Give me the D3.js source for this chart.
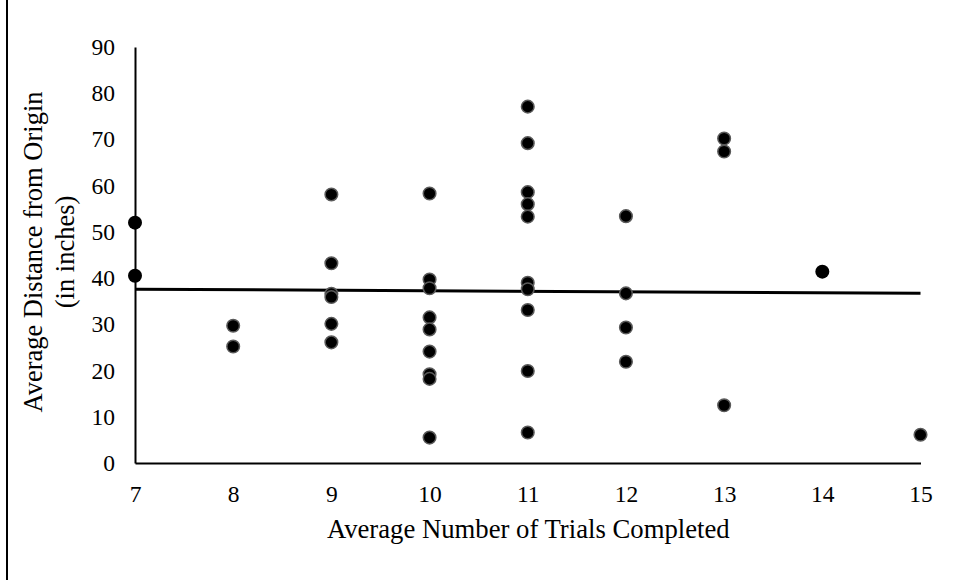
<!DOCTYPE html>
<html>
<head>
<meta charset="utf-8">
<script src="https://cdn.jsdelivr.net/npm/d3@7"></script>
<style>
  body { margin: 0; background: #fff; }
  svg { display: block; }
  .tick text, .label { font-family: "Liberation Serif", "Times New Roman", serif; fill: #000; }
</style>
</head>
<body>
<svg id="chart" width="959" height="580"></svg>
<script>
// trials completed vs distance from origin
const trials = [8, 8, 9, 9, 9, 9, 9, 9, 10, 10, 10, 10, 10, 10, 10, 10, 10,
    11, 11, 11, 11, 11, 11, 11, 11, 11, 11, 12, 12, 12, 12, 13, 13, 13, 15];
const distance = [29.7, 25.2, 58.1, 43.2, 36.6, 35.9, 30.1, 26.1,
    58.3, 39.7, 37.8, 31.5, 28.9, 24.1, 19.2, 18.2, 5.5,
    77.1, 69.2, 58.6, 56.0, 53.3, 39.0, 37.6, 33.1, 19.9, 6.6,
    53.4, 36.7, 29.3, 21.9, 70.2, 67.4, 12.5, 6.1];

// plain black markers (no grey ring)
const extraTrials = [7, 7, 14];
const extraDistance = [52.0, 40.5, 41.4];

// fitted trend line ends
const trendX = [7, 15];
const trendY = [37.6, 36.7];

const xTicks = [7, 8, 9, 10, 11, 12, 13, 14, 15];
const yTicks = [0, 10, 20, 30, 40, 50, 60, 70, 80, 90];

const svg = d3.select("#chart");

const x = d3.scaleLinear().domain([7, 15]).range([135, 920.5]);
const y = d3.scaleLinear().domain([0, 90]).range([463, 47]);

// outer left border
svg.append("line")
    .attr("x1", 7).attr("x2", 7)
    .attr("y1", 0).attr("y2", 580)
    .attr("stroke", "#000").attr("stroke-width", 2);

// axes
const xAxis = svg.append("g")
    .attr("transform", `translate(0,${y(0)})`)
    .call(d3.axisBottom(x).tickValues(xTicks).tickSize(0).tickPadding(22).tickFormat(d3.format("d")));
xAxis.select(".domain").attr("stroke", "#000").attr("stroke-width", 2);
xAxis.selectAll(".tick text").style("font-size", "23.5px");

const yAxis = svg.append("g")
    .attr("transform", `translate(${x(7)},0)`)
    .call(d3.axisLeft(y).tickValues(yTicks).tickSize(0).tickPadding(20));
yAxis.select(".domain").attr("stroke", "#000").attr("stroke-width", 2);
yAxis.selectAll(".tick text").style("font-size", "23.5px");

// trend line
const trend = trendX.map((d, i) => ({ x: d, y: trendY[i] }));
svg.append("path")
    .datum(trend)
    .attr("fill", "none")
    .attr("stroke", "#000")
    .attr("stroke-width", 3)
    .attr("d", d3.line().x(d => x(d.x)).y(d => y(d.y)));

// points
const pts = trials.map((d, i) => ({ x: d, y: distance[i] }));
svg.append("g")
    .selectAll("circle")
    .data(pts)
    .enter().append("circle")
    .attr("cx", d => x(d.x))
    .attr("cy", d => y(d.y))
    .attr("r", 6.3)
    .attr("fill", "#000")
    .attr("stroke", "#5a5a5a")
    .attr("stroke-width", 1.5);

const extra = extraTrials.map((d, i) => ({ x: d, y: extraDistance[i] }));
svg.append("g")
    .selectAll("circle")
    .data(extra)
    .enter().append("circle")
    .attr("cx", d => x(d.x))
    .attr("cy", d => y(d.y))
    .attr("r", 7)
    .attr("fill", "#000");

// axis titles
svg.append("text")
    .attr("class", "label")
    .attr("x", (x(7) + x(15)) / 2 + 0.5)
    .attr("y", 538)
    .attr("text-anchor", "middle")
    .style("font-size", "26.7px")
    .text("Average Number of Trials Completed");

const yTitle = svg.append("text")
    .attr("class", "label")
    .attr("transform", "translate(0,252) rotate(-90)")
    .attr("text-anchor", "middle")
    .style("font-size", "26.5px");
yTitle.append("tspan").attr("x", 0).attr("y", 42).text("Average Distance from Origin");
yTitle.append("tspan").attr("x", 0).attr("y", 74).text("(in inches)");
</script>
</body>
</html>
